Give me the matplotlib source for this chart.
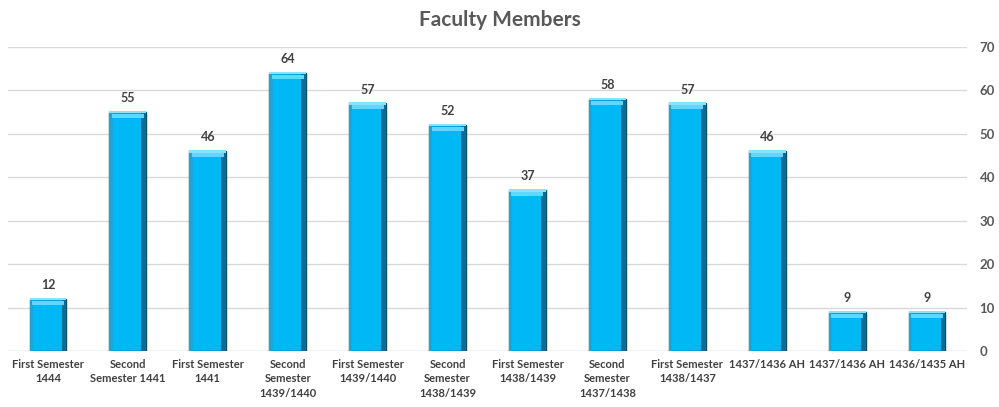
import numpy as np
import matplotlib.pyplot as plt

categories = ['First Semester\n1444', 'Second\nSemester 1441', 'First Semester\n1441',
              'Second\nSemester\n1439/1440', 'First Semester\n1439/1440',
              'Second\nSemester\n1438/1439', 'First Semester\n1438/1439',
              'Second\nSemester\n1437/1438', 'First Semester\n1438/1437',
              '1437/1436 AH', '1437/1436 AH', '1436/1435 AH']
values = [12, 55, 46, 64, 57, 52, 37, 58, 57, 46, 9, 9]

plt.rcParams['font.family'] = ['Lato', 'DejaVu Sans']

fig = plt.figure(figsize=(9.99, 4.07), dpi=100)
ax = fig.add_axes([0.008, 0.1376, 0.960, 0.747])

x = np.arange(len(values))
w = 0.46
vals = np.array(values, dtype=float)
ax.bar(x, vals, width=w, color='#00B8F5', edgecolor='#0B4F6C', linewidth=1.0, zorder=3)
# bevel: dark right side, light left edge, light top strip
ax.bar(x + w / 2 - 0.03, vals, width=0.06, color='#0A6D92', linewidth=0, zorder=4)
ax.bar(x - w / 2 + 0.02, vals, width=0.04, color='#1AA6D8', linewidth=0, zorder=4)
ax.bar(x, np.full_like(vals, 0.9), bottom=vals - 1.3, width=w - 0.06,
       color='#5FD8FF', linewidth=0, zorder=4)
ax.bar(x, np.full_like(vals, 0.6), bottom=vals - 0.3, width=w,
       color='#86E4FF', linewidth=0, zorder=4)

for xi, v in zip(x, values):
    ax.text(xi, v + 1.8, str(v), ha='center', va='bottom', fontsize=9,
            fontweight='bold', color='#404040')

ax.set_xlim(-0.5, len(values) - 0.5)
ax.set_ylim(0, 70)
ax.set_yticks(range(0, 71, 10))
ax.yaxis.tick_right()
ax.grid(axis='y', color='#D9D9D9', linewidth=1, zorder=0)
ax.set_axisbelow(True)
for s in ['top', 'left', 'right', 'bottom']:
    ax.spines[s].set_visible(False)
ax.tick_params(axis='y', length=0, pad=9, labelsize=9.5, labelcolor='#595959')
ax.tick_params(axis='x', length=0, pad=6, labelsize=8, labelcolor='#404040')
ax.set_xticks(x)
ax.set_xticklabels(categories, fontweight='bold', linespacing=1.35)
for lbl in ax.get_yticklabels():
    lbl.set_fontweight('bold')
ax.axhline(0, color='#D9D9D9', linewidth=1, zorder=1)

fig.suptitle('Faculty Members', x=0.5, y=0.975, fontsize=15, fontweight='bold', color='#595959')

fig.savefig('out.png', dpi=100, facecolor='white')
